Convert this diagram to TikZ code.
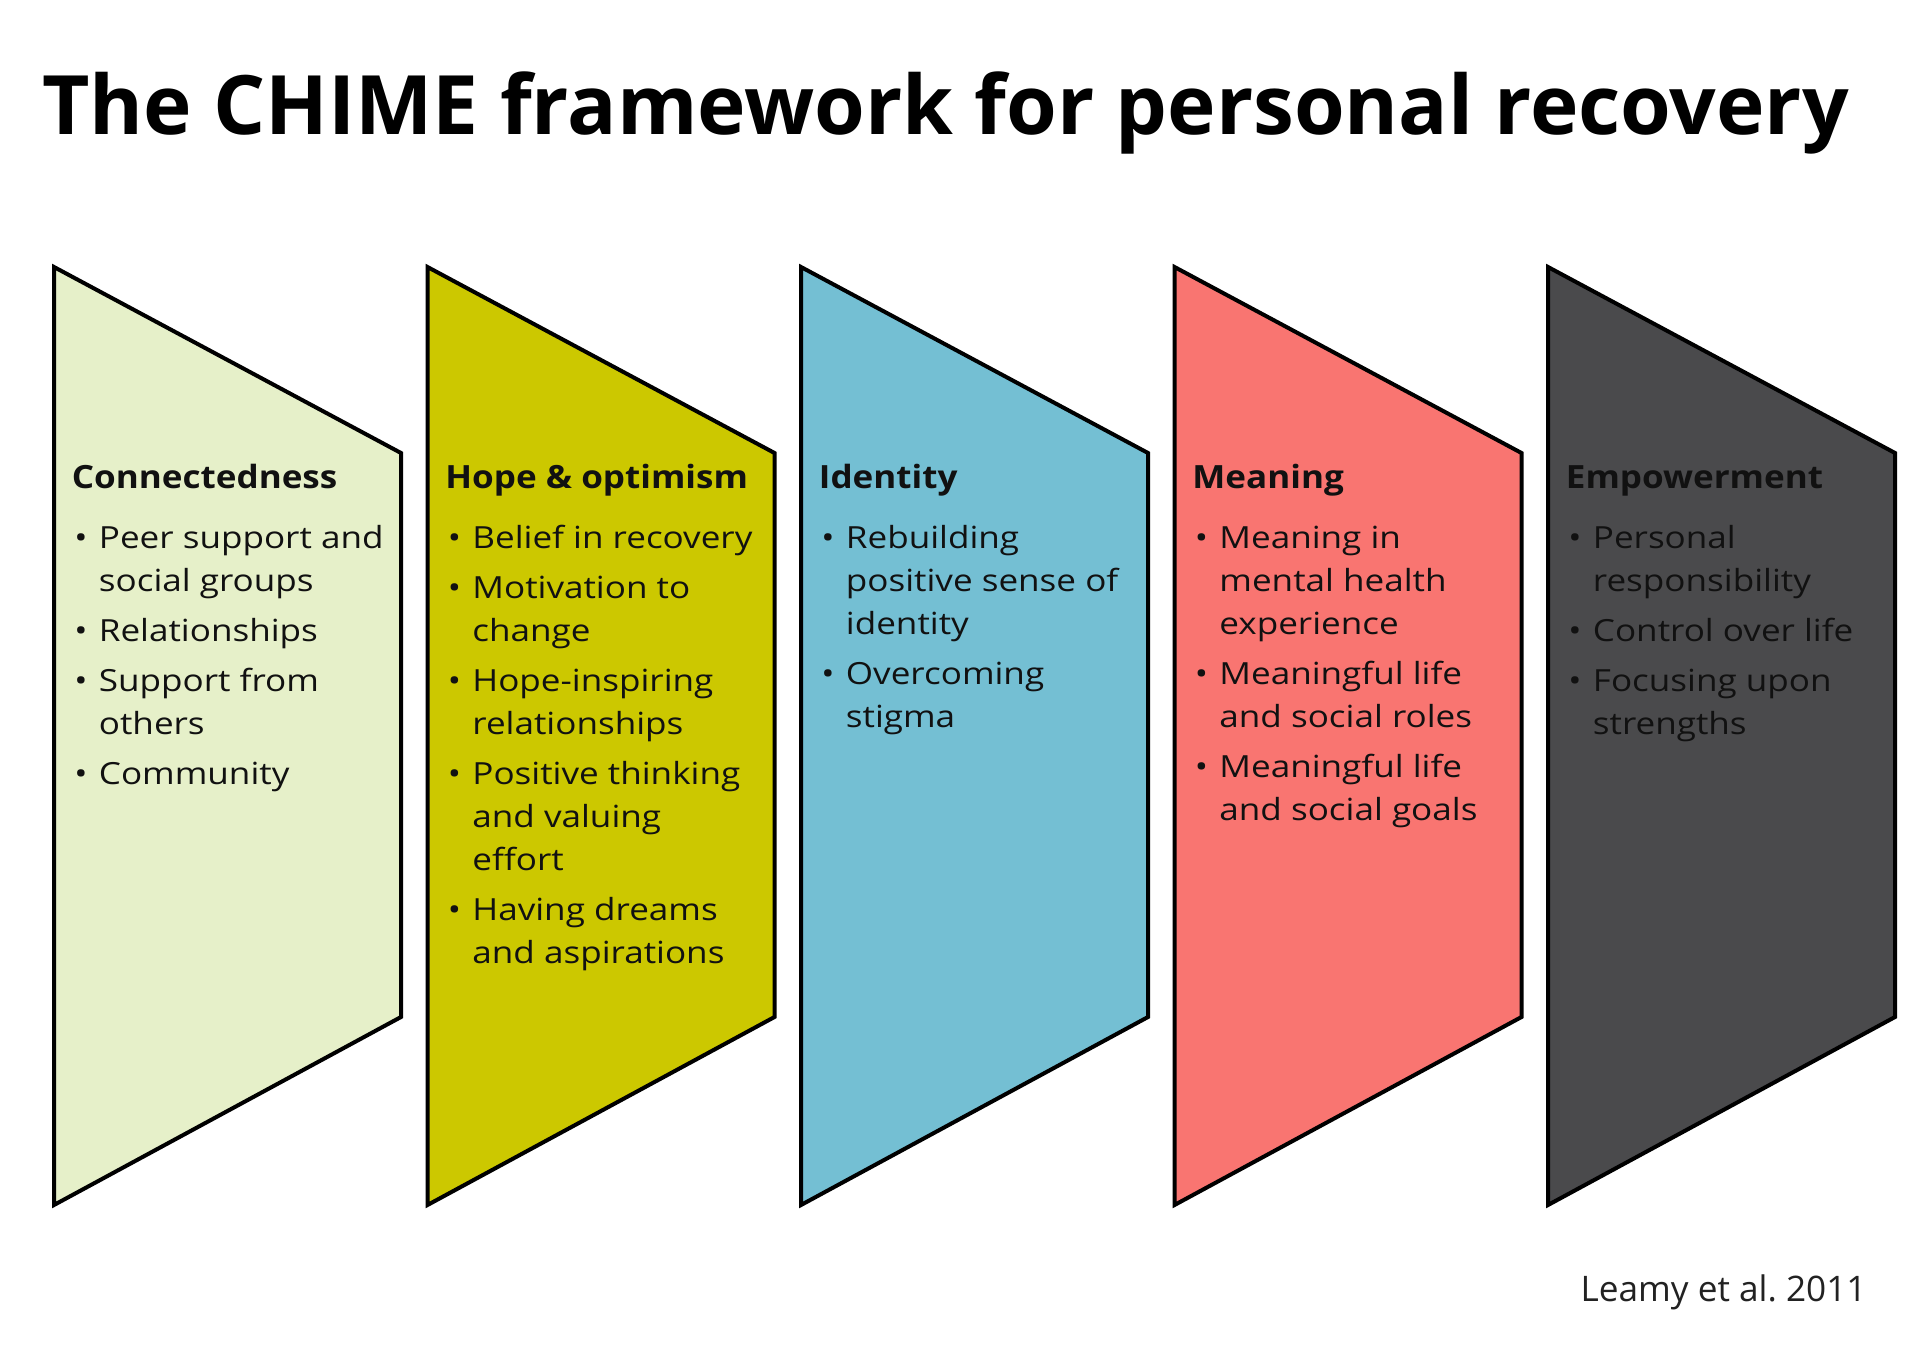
\documentclass[tikz,border=0pt]{standalone}
\usepackage{fontspec}
\setmainfont{Open Sans}
\newfontfamily\chimebodyfont[FakeStretch=1.15]{Open Sans}
\newfontfamily\chimeheadfont[FakeStretch=1.095]{Open Sans}
\usetikzlibrary{positioning}
\definecolor{ConnGreen}{HTML}{E6F0C9}
\definecolor{HopeOlive}{HTML}{CCC800}
\definecolor{IdentBlue}{HTML}{74BFD3}
\definecolor{MeanRed}{HTML}{F97571}
\definecolor{EmpGray}{HTML}{4A4A4C}
\definecolor{InkDark}{HTML}{111111}
\definecolor{CiteGray}{HTML}{222222}

% one bullet line of a panel, and the panel heading
\newcommand{\chimeitem}[1]{\par\vspace{3.5pt}\hangindent=13.5pt\hangafter=1\noindent\hbox to 13.5pt{\hskip1.2pt\textbullet\hfil}#1}
\newcommand{\chimehead}[1]{{\chimeheadfont\bfseries\fontsize{16pt}{21.5pt}\selectfont #1\par}\vspace{4.75pt}}
\newcommand{\chimebox}[1]{\vtop{\hsize=220pt\parindent=0pt\parskip=0pt\chimebodyfont\fontsize{15.25pt}{21.5pt}\selectfont #1\par}}

\begin{document}
\begin{tikzpicture}[
    x=0.5pt, y=-0.5pt,
    panel/.style={draw=black, line width=2pt, line join=miter},
    paneltext/.style={anchor=base west, inner sep=0pt, text=InkDark},
    titletext/.style={anchor=base west, inner sep=0pt, font=\bfseries\fontsize{41pt}{50pt}\selectfont, text=black},
    citetext/.style={anchor=base east, inner sep=0pt, font=\fontsize{17.6pt}{20pt}\selectfont, text=CiteGray}
]
\fill[white] (0,0) rectangle (1920,1352);
\useasboundingbox (0,0) rectangle (1920,1352);

% Title
\node[titletext] (title) at (42,135) {The CHIME framework for personal recovery};

% Panels: width 347, step 373.5
\foreach \i/\col in {0/ConnGreen, 1/HopeOlive, 2/IdentBlue, 3/MeanRed, 4/EmpGray} {
    \pgfmathsetmacro\lx{54+373.5*\i}
    \draw[panel, fill=\col] (\lx,267) -- (\lx+347,453) -- (\lx+347,1017) -- (\lx,1205) -- cycle;
}

% Connectedness
\node[paneltext] (conn) at (71.5,488.5) {\chimebox{%
    \chimehead{Connectedness}%
    \chimeitem{Peer support and\newline social groups}%
    \chimeitem{Relationships}%
    \chimeitem{Support from\newline others}%
    \chimeitem{Community}}};

% Hope & optimism
\node[paneltext] (hope) at (445,488.5) {\chimebox{%
    \chimehead{Hope \& optimism}%
    \chimeitem{Belief in recovery}%
    \chimeitem{Motivation to\newline change}%
    \chimeitem{Hope-inspiring\newline relationships}%
    \chimeitem{Positive thinking\newline and valuing\newline effort}%
    \chimeitem{Having dreams\newline and aspirations}}};

% Identity
\node[paneltext] (ident) at (818.5,488.5) {\chimebox{%
    \chimehead{Identity}%
    \chimeitem{Rebuilding\newline positive sense of\newline identity}%
    \chimeitem{Overcoming\newline stigma}}};

% Meaning
\node[paneltext] (mean) at (1192,488.5) {\chimebox{%
    \chimehead{Meaning}%
    \chimeitem{Meaning in\newline mental health\newline experience}%
    \chimeitem{Meaningful life\newline and social roles}%
    \chimeitem{Meaningful life\newline and social goals}}};

% Empowerment
\node[paneltext] (emp) at (1565.5,488.5) {\chimebox{%
    \chimehead{Empowerment}%
    \chimeitem{Personal\newline responsibility}%
    \chimeitem{Control over life}%
    \chimeitem{Focusing upon\newline strengths}}};

% Source
\node[citetext] (cite) at (1867,1301) {Leamy et al.\ 2011};
\end{tikzpicture}
\end{document}
